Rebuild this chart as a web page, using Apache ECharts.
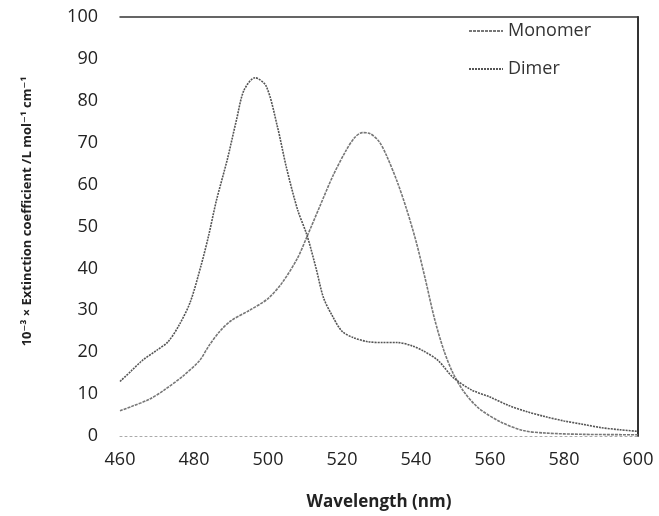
<!DOCTYPE html>
<html><head><meta charset="utf-8">
<script src="https://cdn.jsdelivr.net/npm/echarts@6/dist/echarts.min.js"></script>
<style>html,body{margin:0;padding:0;background:#fff}#c{width:659px;height:516px}</style>
</head><body><div id="c"></div>
<script>
const seriesNames = ["Monomer", "Dimer"];
const monoWl  = [460,463,468,472,477,481.5,484,487,490,495,500,504,508,510.5,514,517.5,521,523.5,525.5,527.5,530,532,535,537.5,540,542.5,545,547.5,550,553,557,563,569,575,585,600];
const monoVal = [6,7,8.8,11,14.3,18,21.5,25,27.5,30,32.8,36.8,42.5,47.5,54.8,62,68,71.3,72.4,72.2,70.3,67,60.5,54,46.5,37.5,28,20.5,15,10.5,6.6,3.3,1.3,0.7,0.4,0.3];
const dimerWl  = [460,463,466,470,473,476,479,482,484,486,489,491.5,493.5,496.5,499.5,502.5,505,508,510.5,513,515,517.5,520,523,527,531,535,539,542,546,550,555,560,565,570,575,580,585,590,595,600];
const dimerVal = [13,15.5,18,20.5,22.5,26.5,32,41,48,56,66,75.5,82.5,85.5,83.5,74,64,54,48,40,33,28.5,25,23.5,22.5,22.3,22.3,21.5,20.3,18,14,11,9.3,7.3,5.8,4.6,3.6,2.8,2.0,1.5,1.1];
const xMin = 460, xMax = 600, xStep = 20;
const yMin = 0, yMax = 100, yStep = 10;
const xTitle = "Wavelength (nm)";
const yTitle = "10\u207B\u00B3 \u00D7 Extinction coefficient /L mol\u207B\u00B9 cm\u207B\u00B9";

const pairs = (xs, ys) => xs.map((x, i) => [x, ys[i]]);
const font = "'Open Sans', 'DejaVu Sans', sans-serif";
const chart = echarts.init(document.getElementById('c'));
chart.setOption({
  animation: false,
  backgroundColor: '#fff',
  grid: { left: 120, right: 21, top: 17, bottom: 79 },
  legend: {
    orient: 'vertical', left: 463, top: 17, itemGap: 20, itemWidth: 34, itemHeight: 10,
    textStyle: { fontFamily: font, fontSize: 18, color: '#333' },
    itemStyle: { opacity: 0 },
    data: seriesNames
  },
  xAxis: [{
    type: 'value', min: xMin, max: xMax, interval: xStep,
    name: xTitle, nameLocation: 'middle', nameGap: 58,
    nameTextStyle: { fontFamily: font, fontSize: 17, fontWeight: 'bold', color: '#222' },
    axisLine: { show: true, onZero: false, lineStyle: { color: '#aaa', type: [2, 3], width: 1 } },
    axisTick: { show: false },
    axisLabel: { margin: 15, fontFamily: font, fontSize: 18, color: '#222' },
    splitLine: { show: false }
  }, {
    type: 'value', position: 'top', min: xMin, max: xMax,
    axisLine: { show: true, onZero: false, lineStyle: { color: '#333', width: 1.5 } },
    axisTick: { show: false }, axisLabel: { show: false }, splitLine: { show: false }
  }],
  yAxis: [{
    type: 'value', min: yMin, max: yMax, interval: yStep,
    name: yTitle, nameLocation: 'middle', nameGap: 86,
    nameTextStyle: { fontFamily: font, fontSize: 13, fontWeight: 'bold', color: '#222', padding: [0, 0, 0, 30] },
    axisLine: { show: false, onZero: false },
    axisTick: { show: false },
    axisLabel: { margin: 22, fontFamily: font, fontSize: 18, color: '#222' },
    splitLine: { show: false }
  }, {
    type: 'value', position: 'right', min: yMin, max: yMax,
    axisLine: { show: true, onZero: false, lineStyle: { color: '#333', width: 2 } },
    axisTick: { show: false }, axisLabel: { show: false }, splitLine: { show: false }
  }],
  series: [{
    name: seriesNames[0], type: 'line', smooth: 0.3, symbol: 'none',
    data: pairs(monoWl, monoVal),
    lineStyle: { color: '#777', width: 1.6, type: [3, 1] },
    itemStyle: { color: '#777' }
  }, {
    name: seriesNames[1], type: 'line', smooth: 0.3, symbol: 'none',
    data: pairs(dimerWl, dimerVal),
    lineStyle: { color: '#555', width: 1.6, type: [2, 1] },
    itemStyle: { color: '#555' }
  }]
});
</script></body></html>
